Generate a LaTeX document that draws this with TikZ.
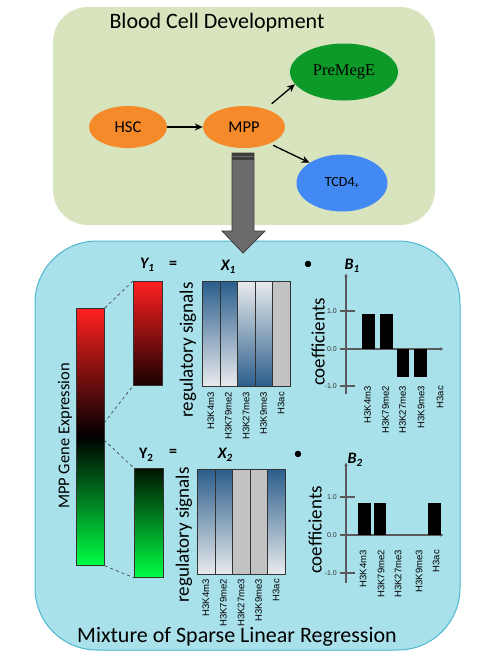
\documentclass[tikz,border=0pt]{standalone}
\usepackage{fontspec}
\setmainfont{Carlito}
\newfontfamily\arialf{Liberation Sans}
\newfontfamily\timesf{Liberation Serif}
\usetikzlibrary{shapes.geometric,arrows.meta}
\definecolor{topbg}{HTML}{D7E4BE}
\definecolor{botbg}{HTML}{A9E1EA}
\definecolor{botborder}{HTML}{4DB8CF}
\definecolor{cellorange}{HTML}{F58A2A}
\definecolor{cellgreen}{HTML}{0E9A28}
\definecolor{cellblue}{HTML}{4289F4}
\definecolor{arrowgray}{HTML}{6B6B6B}
\definecolor{arrowdark}{HTML}{3C3C3C}
\definecolor{darkblue}{HTML}{2B5E8C}
\definecolor{lightgray}{HTML}{E9EBED}
\definecolor{midgray}{HTML}{C2C2C2}
\definecolor{redtop}{HTML}{FF2020}
\definecolor{greenbot}{HTML}{00FF44}
\definecolor{axisgray}{HTML}{5A5A5A}
\definecolor{barborder}{HTML}{333333}
\begin{document}
\begin{tikzpicture}[x=1pt,y=-1pt,
  cell/.style={ellipse, inner sep=0pt, font=\fontsize{16.5}{18}\selectfont},
  flow/.style={-{Stealth[length=8pt,width=7pt]}, line width=1.3pt, black},
  title/.style={font=\fontsize{22}{26}\selectfont},
  ybar/.style={draw=barborder, line width=0.8pt, inner sep=0pt, anchor=north west, minimum width=29pt},
  col/.style={draw=barborder, line width=0.7pt, inner sep=0pt, anchor=north west, minimum width=17.6pt, minimum height=105pt},
  dkcol/.style={col, top color=darkblue, bottom color=lightgray},
  ltcol/.style={col, top color=lightgray, bottom color=darkblue},
  grcol/.style={col, fill=midgray},
  hlabel/.style={rotate=90, anchor=east, inner sep=0pt, font=\arialf\fontsize{9.5}{10}\selectfont},
  ticklabel/.style={anchor=east, inner sep=0pt, text=barborder, font=\arialf\fontsize{7}{8}\selectfont},
  sidelabel/.style={rotate=90, inner sep=0pt, font=\fontsize{19}{22}\selectfont},
  mathlbl/.style={inner sep=0pt, font=\fontsize{16}{18}\selectfont\bfseries\itshape},
  axis/.style={draw=axisgray, line width=1.1pt},
  tick/.style={draw=axisgray, line width=1.1pt},
  coefbar/.style={fill=black}
]
\useasboundingbox (0,0) rectangle (477,653);

% panels
\fill[topbg, rounded corners=35pt] (53,7) rectangle (435,225);
\draw[fill=botbg, draw=botborder, line width=1pt, rounded corners=62pt] (35,241) rectangle (460,650);

% top panel
\node[title] (toptitle) at (217,23) {Blood Cell Development};
\node[cell, fill=cellorange, minimum width=78pt, minimum height=42pt] (hsc) at (128,127) {HSC};
\node[cell, fill=cellorange, minimum width=82pt, minimum height=42pt] (mpp) at (244,127) {MPP};
\node[cell, fill=cellgreen, minimum width=108pt, minimum height=57pt, font=\timesf\fontsize{16.5}{18}\selectfont] (premege) at (344,72) {PreMegE};
\node[cell, fill=cellblue, minimum width=91pt, minimum height=57pt, font=\fontsize{14}{16}\selectfont] (tcd) at (342,183) {TCD4\raisebox{-2pt}{\fontsize{9}{9}\selectfont +}};
\draw[flow] (hsc) -- (mpp);
\draw[flow, shorten <=8pt] (mpp.40) -- (premege.194);
\draw[flow, shorten <=4pt] (mpp.-33) -- (tcd.148);

% big gray arrow
\draw[fill=arrowgray, draw=arrowdark, line width=0.8pt, line join=miter]
  (232,153) -- (254,153) -- (254,231) -- (265,231) -- (243,253) -- (222,231) -- (232,231) -- cycle;
\fill[arrowdark] (232,153) rectangle (254,155.5);
\fill[arrowdark] (232,157) rectangle (254,159.5);

% expression bars
\node[ybar, minimum width=28pt, minimum height=257pt, top color=redtop, bottom color=greenbot, middle color=black] (mppbar) at (76,308) {};
\node[sidelabel, font=\fontsize{16.5}{18}\selectfont] (mpplabel) at (65,436) {MPP Gene Expression};
\node[ybar, minimum height=104pt, top color=redtop, bottom color=black!90!red] (y1bar) at (133,281) {};
\node[ybar, minimum height=109pt, top color=black!92!green, bottom color=greenbot] (y2bar) at (134,468) {};
\coordinate (m1) at (104,423);
\coordinate (m2) at (104,440);
\draw[dashed, barborder, line width=0.6pt] (mppbar.north east) -- (y1bar.north west);
\draw[dashed, barborder, line width=0.6pt] (m1) -- (y1bar.south west);
\draw[dashed, barborder, line width=0.6pt] (m2) -- (y2bar.north west);
\draw[dashed, barborder, line width=0.6pt] (mppbar.south east) -- (y2bar.south west);

% equation labels row 1
\node[mathlbl] (y1) at (147,265) {Y\raisebox{-3pt}{\fontsize{11}{11}\selectfont 1}};
\node[mathlbl, font=\fontsize{16}{18}\selectfont\bfseries] (eq1) at (173,265) {=};
\node[mathlbl] (x1) at (228,267) {X\raisebox{-3pt}{\fontsize{11}{11}\selectfont 1}};
\node[inner sep=0pt, font=\fontsize{18}{18}\selectfont] (dot1) at (308,265) {\textbullet};
\node[mathlbl] (b1) at (352,266) {B\raisebox{-3pt}{\fontsize{11}{11}\selectfont 1}};
\node[sidelabel] (reg1) at (188,350) {regulatory signals};

% X1 columns
\node[dkcol] (x1a) at (202,281) {};
\node[dkcol] (x1b) at (219.6,281) {};
\node[ltcol] (x1c) at (237.2,281) {};
\node[ltcol] (x1d) at (254.8,281) {};
\node[grcol] (x1e) at (272.4,281) {};
\node[hlabel] at (210.8,392) {H3K4m3};
\node[hlabel] at (228.4,392) {H3K79me2};
\node[hlabel] at (246,392) {H3K27me3};
\node[hlabel] at (263.6,392) {H3K9me3};
\node[hlabel] at (281.2,392) {H3ac};

% chart 1
\node[sidelabel] (coef1) at (318,342) {coefficients};
\draw[axis, -{Latex[length=4pt,width=3.5pt]}] (346,394) -- (346,273);
\draw[axis, -{Latex[length=4pt,width=3.5pt]}] (340,349) -- (444,349);
\draw[tick] (340,311) -- (355,311);
\draw[tick] (340,386) -- (355,386);
\node[ticklabel] at (337,311) {1.0};
\node[ticklabel] at (337,349) {0.0};
\node[ticklabel] at (337,386) {-1.0};
\fill[coefbar] (362,314) rectangle (374.5,349);
\fill[coefbar] (380,314) rectangle (392.5,349);
\fill[coefbar] (396.5,349) rectangle (409,377);
\fill[coefbar] (414,349) rectangle (426.5,377);
\node[hlabel] at (367.5,386) {H3K4m3};
\node[hlabel] at (385.5,386) {H3K79me2};
\node[hlabel] at (402.5,386) {H3K27me3};
\node[hlabel] at (421,386) {H3K9me3};
\node[hlabel] at (440,386) {H3ac};

% equation labels row 2
\node[mathlbl, font=\fontsize{16}{18}\selectfont\bfseries] (y2) at (146,455) {Y\raisebox{-3pt}{\fontsize{11}{11}\selectfont 2}};
\node[mathlbl, font=\fontsize{16}{18}\selectfont\bfseries] (eq2) at (173,453) {=};
\node[mathlbl] (x2) at (225,455) {X\raisebox{-3pt}{\fontsize{11}{11}\selectfont 2}};
\node[inner sep=0pt, font=\fontsize{18}{18}\selectfont] (dot2) at (298,455) {\textbullet};
\node[mathlbl] (b2) at (355,460) {B\raisebox{-3pt}{\fontsize{11}{11}\selectfont 2}};
\node[sidelabel] (reg2) at (184,535) {regulatory signals};

% X2 columns
\node[dkcol] (x2a) at (197,469) {};
\node[dkcol] (x2b) at (214.6,469) {};
\node[grcol] (x2c) at (232.2,469) {};
\node[grcol] (x2d) at (249.8,469) {};
\node[dkcol] (x2e) at (267.4,469) {};
\node[hlabel] at (205.8,579) {H3K4m3};
\node[hlabel] at (223.4,579) {H3K79me2};
\node[hlabel] at (241,579) {H3K27me3};
\node[hlabel] at (258.6,579) {H3K9me3};
\node[hlabel] at (276.2,579) {H3ac};

% chart 2
\node[sidelabel] (coef2) at (315,530) {coefficients};
\draw[axis, -{Latex[length=4pt,width=3.5pt]}] (346,583) -- (346,462);
\draw[axis, -{Latex[length=4pt,width=3.5pt]}] (340,535) -- (444,535);
\draw[tick] (340,497) -- (355,497);
\draw[tick] (340,573) -- (355,573);
\node[ticklabel] at (337,497) {1.0};
\node[ticklabel] at (337,535) {0.0};
\node[ticklabel] at (337,573) {-1.0};
\fill[coefbar] (358,503) rectangle (370.5,535);
\fill[coefbar] (373.5,503) rectangle (386,535);
\fill[coefbar] (428,503) rectangle (440.5,535);
\node[hlabel] at (363,550) {H3K4m3};
\node[hlabel] at (381,550) {H3K79me2};
\node[hlabel] at (398,550) {H3K27me3};
\node[hlabel] at (419,550) {H3K9me3};
\node[hlabel] at (436,550) {H3ac};

\node[title] (bottitle) at (237,637) {Mixture of Sparse Linear Regression};
\end{tikzpicture}
\end{document}
